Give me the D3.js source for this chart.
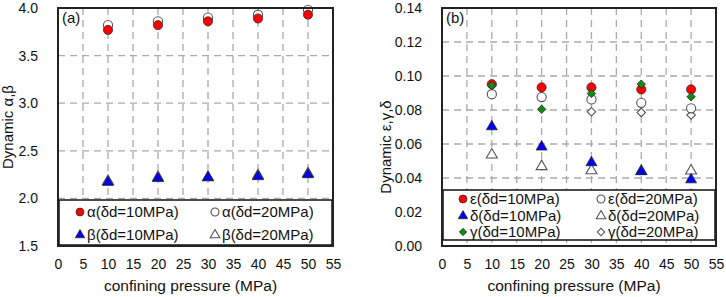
<!DOCTYPE html>
<html><head><meta charset="utf-8">
<script src="https://cdn.jsdelivr.net/npm/d3@7"></script>
<style>
body{margin:0;background:#fff;}
svg{display:block;font-family:"Liberation Sans",Arial,sans-serif;}
</style></head>
<body><svg id="c" width="726" height="297"></svg>
<script>
const pressures = [10, 20, 30, 40, 50];
const xTicks = [0, 5, 10, 15, 20, 25, 30, 35, 40, 45, 50, 55];
// panel (a)
const alpha10 = [3.77, 3.82, 3.86, 3.89, 3.93];
const alpha20 = [3.82, 3.86, 3.90, 3.93, 3.98];
const beta10 = [2.17, 2.21, 2.22, 2.23, 2.25];
const beta20 = [2.18, 2.22, 2.22, 2.24, 2.26];
const yTicksA = [1.5, 2.0, 2.5, 3.0, 3.5, 4.0];
// panel (b)
const eps10 = [0.0952, 0.0933, 0.0933, 0.0921, 0.0921];
const eps20 = [0.0893, 0.0876, 0.0862, 0.0842, 0.0810];
const delta10 = [0.0702, 0.0583, 0.0491, 0.0438, 0.0390];
const delta20 = [0.0536, 0.0468, 0.0444, 0.0440, 0.0442];
const gamma10 = [0.0944, 0.0804, 0.0897, 0.0952, 0.0878];
const gamma20 = [0.0890, 0.0883, 0.0790, 0.0786, 0.0770];
const yTicksB = [0, 0.02, 0.04, 0.06, 0.08, 0.10, 0.12, 0.14];

const svg = d3.select("#c");
const RED = "#ff0000", BLUE = "#0000ee", GREEN = "#138a13";

function marker(g, shape, fill, x, y, size) {
  const sym = {circle: d3.symbolCircle, triangle: d3.symbolTriangle, diamond: d3.symbolSquare}[shape];
  const open = fill === null;
  g.append("path")
    .attr("d", d3.symbol().type(sym).size(size)())
    .attr("transform", `translate(${x},${y})` + (shape === "diamond" ? " rotate(45)" : ""))
    .attr("fill", open ? "#fff" : fill)
    .attr("stroke", open ? "#555" : "#222")
    .attr("stroke-width", open ? 1.1 : 0.7);
}
const sizes = {circle: 66, triangle: 52, diamond: 36};

function panel(cfg) {
  const g = svg.append("g");
  const x = d3.scaleLinear().domain([0, 55]).range([cfg.left, cfg.right]);
  const y = d3.scaleLinear().domain(cfg.yDomain).range([cfg.bottom, cfg.top]);
  g.append("rect").attr("x", cfg.left).attr("y", cfg.top)
    .attr("width", cfg.right - cfg.left).attr("height", cfg.bottom - cfg.top).attr("fill", "#fff");
  const grid = g.append("g").attr("stroke", "#aaa").attr("stroke-width", 1.3).attr("stroke-dasharray", "7,5");
  xTicks.filter(t => t > 0 && t < 55).forEach(t => {
    grid.append("line").attr("x1", x(t)).attr("x2", x(t)).attr("y1", cfg.top).attr("y2", cfg.bottom);
  });
  cfg.yTicks.slice(1, -1).forEach(t => {
    grid.append("line").attr("x1", cfg.left).attr("x2", cfg.right).attr("y1", y(t)).attr("y2", y(t));
  });
  const xa = g.append("g").attr("transform", `translate(0,${cfg.bottom + 10})`)
    .call(d3.axisBottom(x).tickValues(xTicks).tickSize(0).tickFormat(d3.format("d")));
  xa.select(".domain").remove();
  xa.selectAll("text").attr("font-size", 14).attr("fill", "#111").attr("font-family", "Liberation Sans, Arial").attr("dy", "0.71em");
  const ya = g.append("g").attr("transform", `translate(${cfg.left - 17},0)`)
    .call(d3.axisLeft(y).tickValues(cfg.yTicks).tickSize(0).tickFormat(d3.format(cfg.fmt)));
  ya.select(".domain").remove();
  ya.selectAll("text").attr("font-size", 14).attr("fill", "#111").attr("font-family", "Liberation Sans, Arial");
  g.append("text").attr("x", (cfg.left + cfg.right) / 2 - 5).attr("y", 291)
    .attr("text-anchor", "middle").attr("font-size", 15.5).attr("fill", "#111").text("confining pressure (MPa)");
  g.append("text").attr("transform", `translate(${cfg.yTitleX},${cfg.yTitleY}) rotate(-90)`)
    .attr("text-anchor", "middle").attr("font-size", 15).attr("fill", "#111").text(cfg.yTitle);
  g.append("text").attr("x", cfg.left + 4).attr("y", cfg.top + 15)
    .attr("font-size", 15).attr("fill", "#111").text(cfg.tag);
  const pts = g.append("g");
  cfg.series.forEach(s => {
    s.values.forEach((v, i) => marker(pts, s.shape, s.fill, x(pressures[i]), y(v), sizes[s.shape]));
  });
  const lg = g.append("g");
  lg.append("rect").attr("x", cfg.left + 1).attr("y", cfg.legTop)
    .attr("width", cfg.right - cfg.left - 2).attr("height", cfg.legBottom - cfg.legTop)
    .attr("fill", "#fff").attr("stroke", "#111").attr("stroke-width", 1.5);
  cfg.legend.forEach((s, i) => {
    const col = i % 2, row = Math.floor(i / 2);
    const ly = cfg.legRows[row];
    const lx = cfg.legCols[col];
    marker(lg, s.shape, s.fill, lx, ly, sizes[s.shape] * 0.75);
    lg.append("text").attr("x", lx + 7).attr("y", ly).attr("dy", "0.35em")
      .attr("font-size", 15).attr("fill", "#111").text(s.label);
  });
  g.append("rect").attr("x", cfg.left).attr("y", cfg.top)
    .attr("width", cfg.right - cfg.left).attr("height", cfg.bottom - cfg.top)
    .attr("fill", "none").attr("stroke", "#222").attr("stroke-width", 2);
}

const sA = {
  a10: {values: alpha10, shape: "circle", fill: RED, label: "α(δd=10MPa)"},
  a20: {values: alpha20, shape: "circle", fill: null, label: "α(δd=20MPa)"},
  b10: {values: beta10, shape: "triangle", fill: BLUE, label: "β(δd=10MPa)"},
  b20: {values: beta20, shape: "triangle", fill: null, label: "β(δd=20MPa)"}
};
panel({
  left: 58, right: 333, top: 8, bottom: 246,
  yDomain: [1.5, 4.0], yTicks: yTicksA, fmt: ".1f",
  yTitle: "Dynamic α,β", yTitleX: 13, yTitleY: 127, tag: "(a)",
  series: [sA.a20, sA.b20, sA.a10, sA.b10],
  legend: [sA.a10, sA.a20, sA.b10, sA.b20],
  legTop: 200, legBottom: 245, legRows: [212, 235], legCols: [80, 215]
});
const sB = {
  e10: {values: eps10, shape: "circle", fill: RED, label: "ε(δd=10MPa)"},
  e20: {values: eps20, shape: "circle", fill: null, label: "ε(δd=20MPa)"},
  d10: {values: delta10, shape: "triangle", fill: BLUE, label: "δ(δd=10MPa)"},
  d20: {values: delta20, shape: "triangle", fill: null, label: "δ(δd=20MPa)"},
  g10: {values: gamma10, shape: "diamond", fill: GREEN, label: "γ(δd=10MPa)"},
  g20: {values: gamma20, shape: "diamond", fill: null, label: "γ(δd=20MPa)"}
};
panel({
  left: 442, right: 716, top: 8, bottom: 246,
  yDomain: [0, 0.14], yTicks: yTicksB, fmt: ".2f",
  yTitle: "Dynamic ε,γ,δ", yTitleX: 391, yTitleY: 147, tag: "(b)",
  series: [sB.g20, sB.e20, sB.d20, sB.e10, sB.d10, sB.g10],
  legend: [sB.e10, sB.e20, sB.d10, sB.d20, sB.g10, sB.g20],
  legTop: 190, legBottom: 240, legRows: [199, 216, 232], legCols: [463, 601]
});
</script></body></html>
